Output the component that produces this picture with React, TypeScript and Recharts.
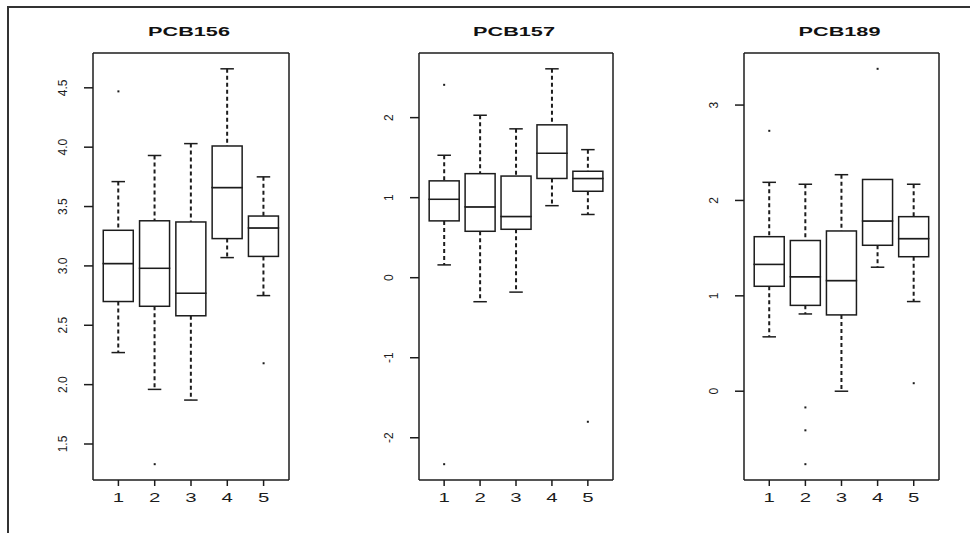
import { Bar, ComposedChart, Line, XAxis, YAxis } from "recharts"

const categories = ["1", "2", "3", "4", "5"]

// PCB156
const pcb156Low = [2.27, 1.96, 1.87, 3.07, 2.75]
const pcb156Q1 = [2.7, 2.66, 2.58, 3.23, 3.08]
const pcb156Median = [3.02, 2.98, 2.77, 3.66, 3.32]
const pcb156Q3 = [3.3, 3.38, 3.37, 4.01, 3.42]
const pcb156High = [3.71, 3.93, 4.03, 4.66, 3.75]
const pcb156Outliers = [[4.47], [1.33], [], [], [2.18]]
const pcb156Ticks = [1.5, 2, 2.5, 3, 3.5, 4, 4.5]

// PCB157
const pcb157Low = [0.16, -0.3, -0.18, 0.9, 0.79]
const pcb157Q1 = [0.71, 0.58, 0.605, 1.24, 1.08]
const pcb157Median = [0.98, 0.885, 0.765, 1.555, 1.24]
const pcb157Q3 = [1.21, 1.3, 1.27, 1.91, 1.33]
const pcb157High = [1.53, 2.03, 1.86, 2.61, 1.6]
const pcb157Outliers = [[2.41, -2.33], [], [], [], [-1.8]]
const pcb157Ticks = [-2, -1, 0, 1, 2]

// PCB189
const pcb189Low = [0.57, 0.81, 0.0, 1.3, 0.94]
const pcb189Q1 = [1.1, 0.9, 0.8, 1.53, 1.41]
const pcb189Median = [1.33, 1.2, 1.16, 1.785, 1.6]
const pcb189Q3 = [1.62, 1.58, 1.68, 2.22, 1.83]
const pcb189High = [2.19, 2.17, 2.27, 2.22, 2.17]
const pcb189Outliers = [[2.73], [-0.17, -0.41, -0.765], [], [3.38], [0.084]]
const pcb189Ticks = [0, 1, 2, 3]

const INK = "#1c1c1c"
const FONT = "'Liberation Sans', Arial, sans-serif"

type Panel = {
  title: string
  low: number[]
  q1: number[]
  median: number[]
  q3: number[]
  high: number[]
  outliers: number[][]
  ticks: number[]
  fmt: (v: number) => string
  plotLeft: number
  plotWidth: number
}

// R-style ylim: data range stretched by 4% on both ends
function paddedDomain(p: Panel): [number, number] {
  const all = [...p.low, ...p.high, ...p.outliers.flat()]
  const min = Math.min(...all)
  const max = Math.max(...all)
  const pad = (max - min) * 0.04
  return [min - pad, max + pad]
}

function buildRows(p: Panel) {
  return categories.map((g, i) => ({
    g,
    base: p.low[i],
    lowerWhisker: p.q1[i] - p.low[i],
    lowerBox: p.median[i] - p.q1[i],
    upperBox: p.q3[i] - p.median[i],
    upperWhisker: p.high[i] - p.q3[i],
    o0: p.outliers[i][0] ?? null,
    o1: p.outliers[i][1] ?? null,
    o2: p.outliers[i][2] ?? null,
  }))
}

const Empty = () => <g />

function LowerWhisker(props: any) {
  const { x, y, width, height } = props
  if (!height || height < 0.5) return <g />
  const cx = x + width / 2
  const cap = width * 0.45
  return (
    <g>
      <line x1={cx} x2={cx} y1={y} y2={y + height} stroke={INK} strokeWidth={2} strokeDasharray="4 3" />
      <line x1={cx - cap / 2} x2={cx + cap / 2} y1={y + height} y2={y + height} stroke={INK} strokeWidth={1.5} />
    </g>
  )
}

function UpperWhisker(props: any) {
  const { x, y, width, height } = props
  if (!height || height < 0.5) return <g />
  const cx = x + width / 2
  const cap = width * 0.45
  return (
    <g>
      <line x1={cx} x2={cx} y1={y} y2={y + height} stroke={INK} strokeWidth={2} strokeDasharray="4 3" />
      <line x1={cx - cap / 2} x2={cx + cap / 2} y1={y} y2={y} stroke={INK} strokeWidth={1.5} />
    </g>
  )
}

function BoxHalf(props: any) {
  const { x, y, width, height } = props
  if (height == null || isNaN(height)) return <g />
  return <rect x={x} y={y} width={width} height={Math.max(height, 0)} fill="#fff" stroke={INK} strokeWidth={1.5} />
}

function OutlierDot(props: any) {
  const { cx, cy } = props
  if (cx == null || cy == null || isNaN(cy)) return <g key={props.key} />
  return <rect key={props.key} x={cx - 1} y={cy - 1} width={2} height={2} fill={INK} />
}

function makeYTick(fmt: (v: number) => string) {
  return (props: any) => {
    const { x, y, payload } = props
    const cx = x - 21
    return (
      <text
        x={cx}
        y={y}
        transform={`rotate(-90 ${cx} ${y})`}
        textAnchor="middle"
        dominantBaseline="central"
        fontSize={12}
        fontFamily={FONT}
        fill={INK}
      >
        {fmt(payload.value)}
      </text>
    )
  }
}

function XTick(props: any) {
  const { x, y, payload } = props
  return (
    <g transform={`translate(${x},${y + 16}) scale(1.7,1)`}>
      <text x={0} y={0} textAnchor="middle" fontSize={12} fontFamily={FONT} fill={INK}>
        {payload.value}
      </text>
    </g>
  )
}

const panels: Panel[] = [
  {
    title: "PCB156",
    low: pcb156Low,
    q1: pcb156Q1,
    median: pcb156Median,
    q3: pcb156Q3,
    high: pcb156High,
    outliers: pcb156Outliers,
    ticks: pcb156Ticks,
    fmt: (v) => v.toFixed(1),
    plotLeft: 93,
    plotWidth: 196,
  },
  {
    title: "PCB157",
    low: pcb157Low,
    q1: pcb157Q1,
    median: pcb157Median,
    q3: pcb157Q3,
    high: pcb157High,
    outliers: pcb157Outliers,
    ticks: pcb157Ticks,
    fmt: (v) => String(v),
    plotLeft: 419,
    plotWidth: 194,
  },
  {
    title: "PCB189",
    low: pcb189Low,
    q1: pcb189Q1,
    median: pcb189Median,
    q3: pcb189Q3,
    high: pcb189High,
    outliers: pcb189Outliers,
    ticks: pcb189Ticks,
    fmt: (v) => String(v),
    plotLeft: 744,
    plotWidth: 195,
  },
]

const HEIGHT = 533
const PLOT_TOP = 53

function BoxPanel({ p }: { p: Panel }) {
  const rows = buildRows(p)
  const domain = paddedDomain(p)
  const unit = p.plotWidth / 5.4
  const pad = unit * 0.2
  const width = 60 + p.plotWidth + 10
  const axisStyle = { stroke: INK, strokeWidth: 1.5 }
  return (
    <div style={{ position: "absolute", left: p.plotLeft - 60, top: 0 }}>
      <ComposedChart
        width={width}
        height={HEIGHT}
        data={rows}
        margin={{ top: PLOT_TOP - 1, left: 20, right: 9, bottom: 13 }}
      >
        <XAxis
          xAxisId="b"
          dataKey="g"
          type="category"
          height={40}
          padding={{ left: pad, right: pad }}
          axisLine={axisStyle}
          tickLine={{ stroke: INK, strokeWidth: 1.5 }}
          tickSize={6}
          tickMargin={0}
          tick={XTick}
          interval={0}
        />
        <XAxis
          xAxisId="t"
          dataKey="g"
          type="category"
          orientation="top"
          height={1}
          padding={{ left: pad, right: pad }}
          axisLine={axisStyle}
          tickLine={false}
          tick={false}
        />
        <YAxis
          yAxisId="l"
          type="number"
          width={40}
          domain={domain}
          allowDataOverflow
          ticks={p.ticks}
          axisLine={axisStyle}
          tickLine={{ stroke: INK, strokeWidth: 1.5 }}
          tickSize={9}
          tickMargin={0}
          tick={makeYTick(p.fmt)}
          interval={0}
        />
        <YAxis
          yAxisId="r"
          orientation="right"
          type="number"
          width={1}
          domain={domain}
          allowDataOverflow
          axisLine={axisStyle}
          tickLine={false}
          tick={false}
        />
        <Bar xAxisId="b" yAxisId="l" dataKey="base" stackId="box" barSize={30} shape={Empty} isAnimationActive={false} />
        <Bar xAxisId="b" yAxisId="l" dataKey="lowerWhisker" stackId="box" barSize={30} shape={LowerWhisker} isAnimationActive={false} />
        <Bar xAxisId="b" yAxisId="l" dataKey="lowerBox" stackId="box" barSize={30} shape={BoxHalf} isAnimationActive={false} />
        <Bar xAxisId="b" yAxisId="l" dataKey="upperBox" stackId="box" barSize={30} shape={BoxHalf} isAnimationActive={false} />
        <Bar xAxisId="b" yAxisId="l" dataKey="upperWhisker" stackId="box" barSize={30} shape={UpperWhisker} isAnimationActive={false} />
        {["o0", "o1", "o2"].map((k) => (
          <Line
            key={k}
            xAxisId="b"
            yAxisId="l"
            dataKey={k}
            stroke="none"
            dot={OutlierDot}
            activeDot={false}
            isAnimationActive={false}
          />
        ))}
      </ComposedChart>
    </div>
  )
}

export default function App() {
  return (
    <div style={{ position: "absolute", left: 0, top: 0, width: 970, height: HEIGHT, background: "#fff", overflow: "hidden" }}>
      <div
        style={{
          position: "absolute",
          left: 7,
          top: 6,
          width: 980,
          height: 560,
          borderTop: "2px solid #333",
          borderLeft: "2px solid #333",
        }}
      />
      {panels.map((p) => (
        <BoxPanel key={p.title} p={p} />
      ))}
      <svg width={970} height={HEIGHT} style={{ position: "absolute", left: 0, top: 0, pointerEvents: "none" }}>
        {panels.map((p) => (
          <g key={p.title} transform={`translate(${p.plotLeft + p.plotWidth / 2 - 2},36) scale(1.67,1)`}>
            <text x={0} y={0} textAnchor="middle" fontSize={13} fontWeight="bold" fontFamily={FONT} fill="#111">
              {p.title}
            </text>
          </g>
        ))}
      </svg>
    </div>
  )
}
